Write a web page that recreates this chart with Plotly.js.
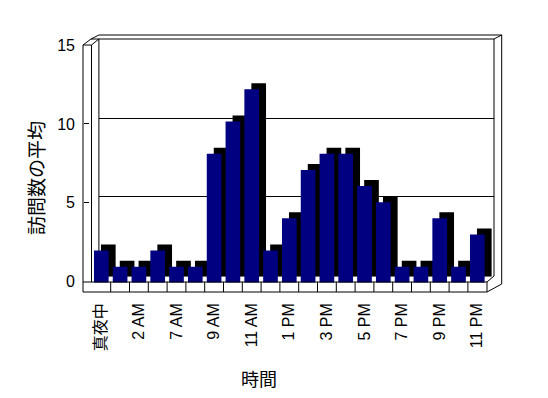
<!DOCTYPE html>
<html>
<head>
<meta charset="utf-8">
<script src="https://cdn.plot.ly/plotly-3.0.1.min.js"></script>
<style>html,body{margin:0;padding:0;background:#fff;}#chart{width:548px;height:398px;}</style>
</head>
<body>
<div id="chart"></div>
<script>
// ---- data ----
const hours = ['真夜中','1 AM','2 AM','6 AM','7 AM','8 AM','9 AM','10 AM','11 AM','正午','1 PM','2 PM','3 PM','4 PM','5 PM','6 PM','7 PM','8 PM','9 PM','10 PM','11 PM'];
const visits = [2,1,1,2,1,1,8,10,12,2,4,7,8,8,6,5,1,1,4,1,3];
const shownTicks = ['真夜中','2 AM','7 AM','9 AM','11 AM','1 PM','3 PM','5 PM','7 PM','9 PM','11 PM'];
const yTicks = [0,5,10,15];
const gridTicks = [5,10];
const yTitle = '訪問数の平均';
const xTitle = '時間';

// ---- layout geometry (pixels) ----
const W = 548, H = 398;
const px = x => x / W;
const py = y => 1 - y / H;
const FONT = 'Liberation Sans, Arial, Noto Sans CJK JP, sans-serif';
const CJK = 'Noto Sans CJK JP, sans-serif';

const bx0 = 91.9, bx1 = 486.7;       // category band on the floor front
const barY0 = 282.8, barY15 = 40.9;  // bar front-face scale
const dx = 7, dy = -6;               // depth offset

const line = (x0, y0, x1, y1, layer) => ({
  type: 'line', xref: 'paper', yref: 'paper',
  x0: px(x0), y0: py(y0), x1: px(x1), y1: py(y1),
  line: {color: '#000', width: 1}, layer: layer || 'above'
});

const shapes = [
  // left wall
  line(83, 45, 83, 292),
  line(91.5, 45, 91.5, 282),
  line(83, 45, 91.5, 45),
  line(83, 45, 91, 39),
  line(91.5, 45, 98.9, 39),
  line(91, 39, 98.9, 35),
  // back wall
  line(91, 39, 494, 39, 'below'),
  line(98.9, 35, 501.7, 35),
  line(494, 39, 501.7, 35),
  line(98.9, 39, 98.9, 276, 'below'),
  line(494, 39, 494, 276, 'below'),
  line(501.7, 35, 501.7, 284),
  // floor
  line(83, 282, 487, 282),
  line(83, 292, 487, 292),
  line(487, 282, 487, 292),
  line(487, 292, 501.7, 284),
  line(487, 282, 494, 276)
];
for (let i = 0; i < hours.length - 1; i++) {
  shapes.push({type: 'line', xref: 'x3', yref: 'paper',
    x0: i + 0.5, x1: i + 0.5, y0: py(292), y1: py(282),
    line: {color: '#000', width: 1}, layer: 'above'});
}

const gridHolder = {type: 'scatter', x: [], y: [], xaxis: 'x', yaxis: 'y', hoverinfo: 'skip', showlegend: false};
const shadow = {
  type: 'bar', x: hours, y: visits, xaxis: 'x2', yaxis: 'y2',
  marker: {color: '#000000', line: {width: 0}}, hoverinfo: 'skip', showlegend: false
};
const bars = {
  type: 'bar', x: hours, y: visits, xaxis: 'x3', yaxis: 'y3',
  marker: {color: '#000080', line: {width: 0}}, name: yTitle, showlegend: false
};
const tickHolder = {type: 'scatter', x: [], y: [], xaxis: 'x3', yaxis: 'y4', hoverinfo: 'skip', showlegend: false};

const catAxis = (x0, x1, extra) => Object.assign({
  domain: [px(x0), px(x1)],
  type: 'category', categoryorder: 'array', categoryarray: hours,
  range: [-0.5, hours.length - 0.5],
  showticklabels: false, ticks: '', showgrid: false, zeroline: false, showline: false,
  automargin: false, fixedrange: true
}, extra || {});
const valAxis = (y0, y15, extra) => Object.assign({
  domain: [py(y0), py(y15)], range: [0, 15],
  showticklabels: false, ticks: '', showgrid: false, zeroline: false, showline: false,
  automargin: false, fixedrange: true
}, extra || {});

const layout = {
  width: W, height: H, autosize: false,
  margin: {l: 0, r: 0, t: 0, b: 0, pad: 0},
  paper_bgcolor: '#ffffff', plot_bgcolor: 'rgba(0,0,0,0)',
  bargap: 0.22,
  font: {family: FONT, color: '#000', size: 16},
  showlegend: false,
  // back wall grid
  xaxis: catAxis(98.9, 494, {anchor: 'y'}),
  yaxis: valAxis(275.1, 39.6, {anchor: 'x', tickvals: gridTicks, showgrid: true, gridcolor: '#000', gridwidth: 1}),
  // shadow (depth) of bars
  xaxis2: catAxis(bx0 + dx, bx1 + dx, {anchor: 'y2'}),
  yaxis2: valAxis(barY0 + dy, barY15 + dy, {anchor: 'x2'}),
  // front faces of bars + category labels
  xaxis3: catAxis(bx0, bx1, {anchor: 'free', position: py(292),
    showticklabels: true, tickmode: 'array', tickvals: shownTicks, ticktext: shownTicks,
    tickangle: -90, ticklabelstandoff: 7,
    tickfont: {family: FONT, size: 16, color: '#000'}}),
  yaxis3: valAxis(barY0, barY15, {anchor: 'x3'}),
  // value labels on the left wall
  yaxis4: valAxis(281.7, 45, {anchor: 'free', position: px(83),
    showticklabels: true, tickmode: 'array', tickvals: yTicks,
    ticks: 'inside', ticklen: 5, tickcolor: '#000', ticklabelstandoff: 8,
    tickfont: {family: FONT, size: 16, color: '#000'}}),
  shapes: shapes,
  annotations: [
    {text: yTitle, xref: 'paper', yref: 'paper', x: px(35), y: py(178),
     xanchor: 'center', yanchor: 'middle', textangle: -90, showarrow: false,
     font: {family: CJK, size: 19, color: '#000'}},
    {text: xTitle, xref: 'paper', yref: 'paper', x: px(259), y: py(378),
     xanchor: 'center', yanchor: 'middle', showarrow: false,
     font: {family: CJK, size: 18, color: '#000'}}
  ]
};

Plotly.newPlot('chart', [gridHolder, shadow, bars, tickHolder], layout, {staticPlot: true, displayModeBar: false});
</script>
</body>
</html>
